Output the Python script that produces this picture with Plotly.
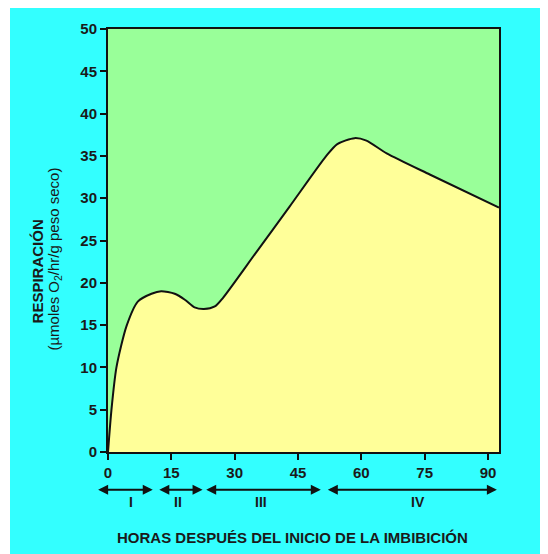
import plotly.graph_objects as go

# Data
hours = [0, 0.8, 2.0, 4.4, 7.1, 10.3, 12.6, 15.8, 18.2, 20.5, 22.7, 25.3, 27.2,
         35.1, 43.0, 51.7, 54.3, 58.4, 61.2, 66.0, 76.2, 92.6]
respiration = [0, 4.9, 10.0, 14.9, 17.8, 18.7, 19.0, 18.7, 18.0, 17.1, 16.9, 17.2, 18.2,
               23.6, 29.0, 35.0, 36.4, 37.1, 36.8, 35.3, 32.8, 28.9]

x_ticks = [0, 15, 30, 45, 60, 75, 90]
y_ticks = [0, 5, 10, 15, 20, 25, 30, 35, 40, 45, 50]

phase_labels = ["I", "II", "III", "IV"]
phase_starts = [-2.7, 11.8, 22.9, 51.7]
phase_ends = [10.6, 22.4, 50.4, 92.1]
phase_label_pos = [5.5, 16.6, 36.3, 73.4]

CYAN = "#33FFFF"
GREEN = "#99FF99"
YELLOW = "#FFFF99"
FONT = "Liberation Sans, Arial, sans-serif"
INK = "#1a1a1a"

W, H = 540, 546
ML, MR, MT, MB = 100, 49, 17, 102
PW = W - ML - MR
XMAX = 92.6
PX_PER_H = PW / XMAX

fig = go.Figure()
fig.add_trace(go.Scatter(
    x=hours, y=respiration, mode="lines",
    line=dict(color="#111111", width=2, shape="spline", smoothing=0.7),
    fill="tozeroy", fillcolor=YELLOW, showlegend=False, hoverinfo="skip",
))

ann = []
for s, e in zip(phase_starts, phase_ends):
    ann.append(dict(x=e, y=-0.089, xref="x", yref="paper",
                    ax=-(e - s) * PX_PER_H, ay=0, axref="pixel", ayref="pixel",
                    text="", showarrow=True,
                    arrowhead=2, arrowsize=1, arrowwidth=2, arrowside="end+start",
                    arrowcolor="#111111"))
for lab, p in zip(phase_labels, phase_label_pos):
    ann.append(dict(x=p, y=-0.119, xref="x", yref="paper", text="<b>" + lab + "</b>",
                    showarrow=False,
                    font=dict(family=FONT, size=14, color=INK),
                    xanchor="center", yanchor="middle"))
ann.append(dict(x=0.472, y=-0.201, xref="paper", yref="paper",
                text="<b>HORAS DESPUÉS DEL INICIO DE LA IMBIBICIÓN</b>", showarrow=False,
                font=dict(family=FONT, size=15, color=INK),
                xanchor="center", yanchor="middle"))
ann.append(dict(x=-0.18, y=0.426, xref="paper", yref="paper", text="<b>RESPIRACIÓN</b>",
                showarrow=False, textangle=-90,
                font=dict(family=FONT, size=15, color=INK),
                xanchor="center", yanchor="middle"))
ann.append(dict(x=-0.136, y=0.457, xref="paper", yref="paper",
                text="(µmoles O<sub>2</sub>/hr/g peso seco)",
                showarrow=False, textangle=-90,
                font=dict(family=FONT, size=15, color=INK),
                xanchor="center", yanchor="middle"))

shapes = [
    dict(type="rect", xref="paper", yref="paper", x0=-0.3, x1=-ML / PW + 2 / PW,
         y0=-0.4, y1=1.2, fillcolor="white", line=dict(width=0), layer="below"),
]

fig.update_layout(
    width=W, height=H,
    margin=dict(l=ML, r=MR, t=MT, b=MB),
    paper_bgcolor=CYAN, plot_bgcolor=GREEN,
    annotations=ann, shapes=shapes,
    font=dict(family=FONT, size=15, color=INK),
)
axis_common = dict(ticks="outside", ticklen=6, tickwidth=1.5, tickcolor="#111111",
                   showline=True, linecolor="#111111", linewidth=2, mirror=True,
                   showgrid=False, zeroline=False,
                   tickfont=dict(family=FONT, size=15, color=INK, weight="bold"))
fig.update_xaxes(range=[0, XMAX], tickvals=x_ticks, **axis_common)
fig.update_yaxes(range=[0, 50], tickvals=y_ticks, **axis_common)

fig.write_html("out.html")
